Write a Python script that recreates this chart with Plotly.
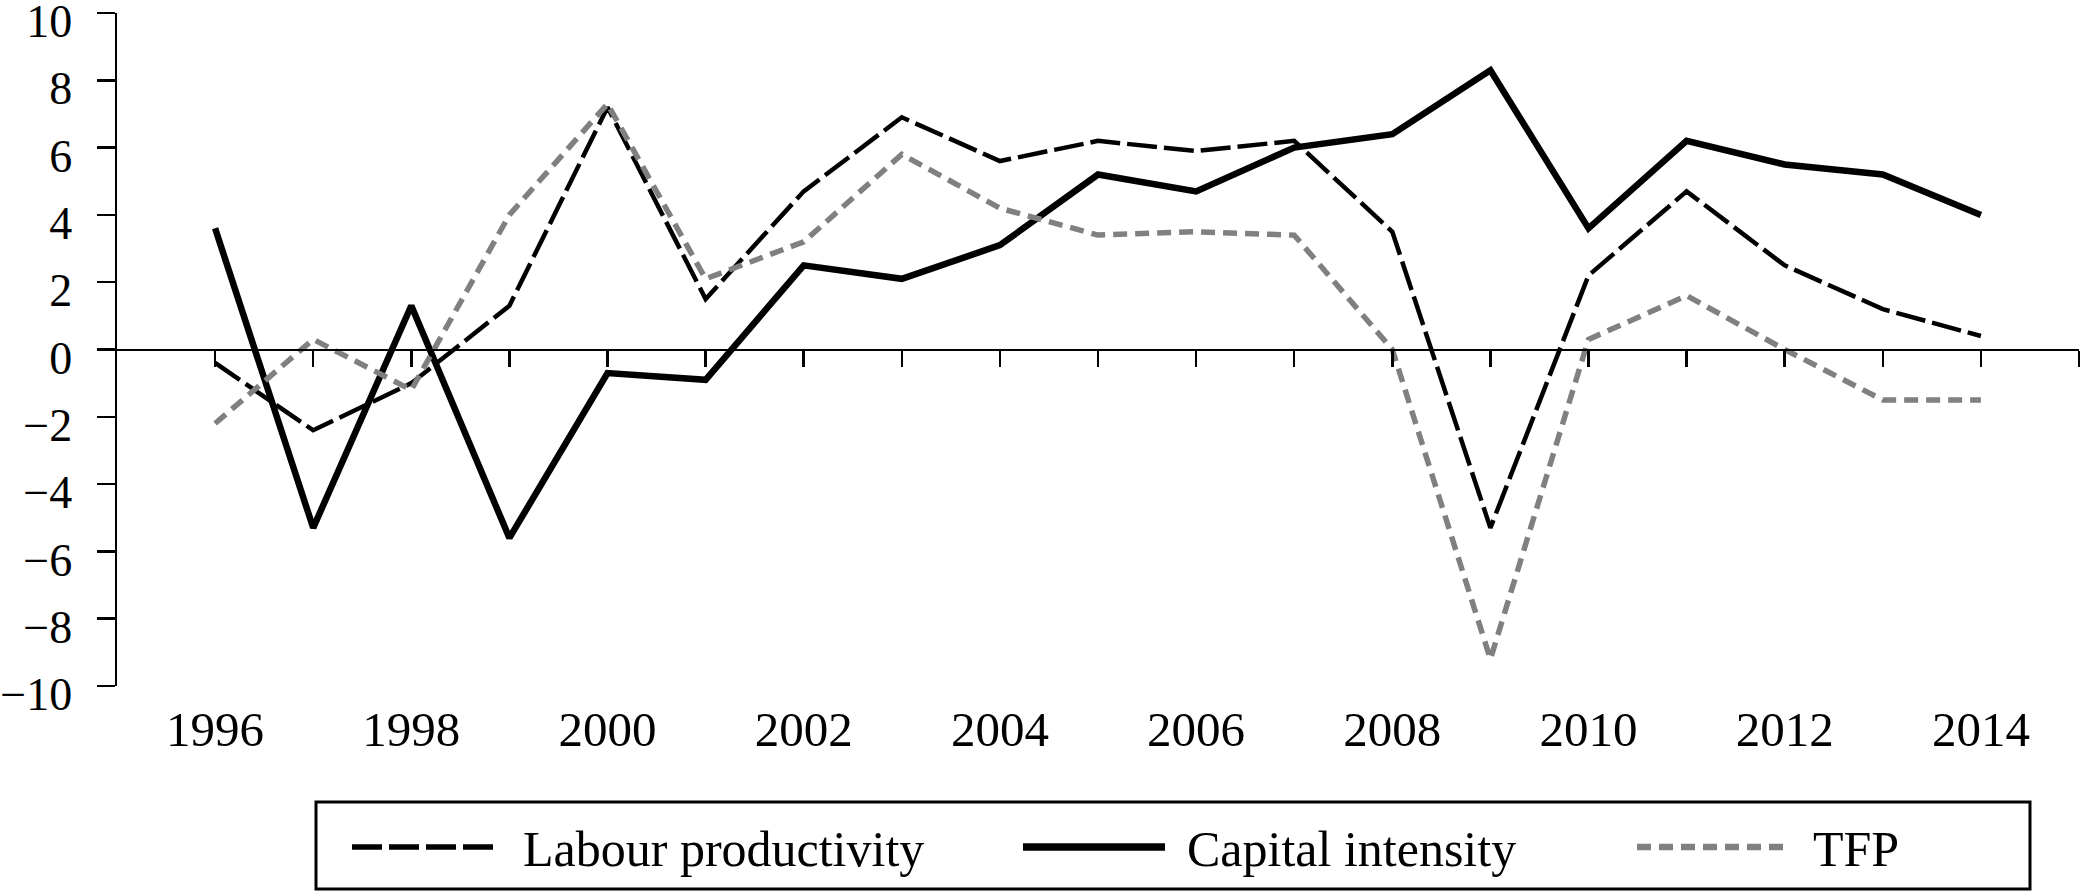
import plotly.graph_objects as go

# ---- data ----
years = list(range(1996, 2015))
labour_productivity = [-0.4, -2.4, -1.0, 1.3, 7.2, 1.5, 4.7, 6.9, 5.6, 6.2, 5.9, 6.2, 3.5, -5.3, 2.2, 4.7, 2.5, 1.2, 0.4]
capital_intensity = [3.6, -5.3, 1.3, -5.6, -0.7, -0.9, 2.5, 2.1, 3.1, 5.2, 4.7, 6.0, 6.4, 8.3, 3.6, 6.2, 5.5, 5.2, 4.0]
tfp = [-2.2, 0.3, -1.2, 4.0, 7.3, 2.1, 3.2, 5.8, 4.2, 3.4, 3.5, 3.4, 0.0, -9.2, 0.3, 1.6, 0.0, -1.5, -1.5]

tick_years = list(range(1996, 2016))
label_years = list(range(1996, 2015, 2))
y_ticks = list(range(-10, 11, 2))
series_names = ["Labour productivity", "Capital intensity", "TFP"]

# ---- geometry ----
W, H = 2083, 893
ML, MR, MT, MB = 117, 4, 13, 207
PW, PH = W - ML - MR, H - MT - MB


def px_x(p):
    return (p - ML) / PW


def px_y(p):
    return (H - MB - p) / PH


FONT = "Liberation Serif"
FS_Y = 46
FS_X = 49
FS_LEG = 50

styles = [
    dict(color="black", width=4.5, dash="30px,7px"),
    dict(color="black", width=6.5),
    dict(color="#808080", width=5.5, dash="14px,8px"),
]

fig = go.Figure()
fig.add_trace(go.Scatter(x=years, y=labour_productivity, mode="lines", name=series_names[0],
                         line=styles[0], hoverinfo="skip"))
fig.add_trace(go.Scatter(x=years, y=capital_intensity, mode="lines", name=series_names[1],
                         line=styles[1], hoverinfo="skip"))
fig.add_trace(go.Scatter(x=years, y=tfp, mode="lines", name=series_names[2], xaxis="x2",
                         line=styles[2], hoverinfo="skip"))

fig.update_layout(
    width=W, height=H,
    margin=dict(l=ML, r=MR, t=MT, b=MB),
    paper_bgcolor="white", plot_bgcolor="white",
    font=dict(family=FONT, size=FS_Y, color="black"),
    showlegend=False,
    hovermode=False,
    xaxis=dict(range=[1995, 2015], anchor="free", position=0.5,
               showline=True, linecolor="black", linewidth=2.5,
               ticks="outside", ticklen=16, tickwidth=2.5, tickcolor="black",
               tickvals=tick_years, showticklabels=False,
               showgrid=False, zeroline=False, automargin=False),
    xaxis2=dict(range=[1995, 2015], overlaying="x", anchor="y", side="bottom",
                showline=False, ticks="", tickvals=label_years,
                ticktext=[str(v) for v in label_years],
                tickfont=dict(family=FONT, size=FS_X, color="black"),
                ticklabelstandoff=10, ticklabeloverflow="allow",
                showgrid=False, zeroline=False, automargin=False),
    yaxis=dict(range=[-10, 10], tickvals=y_ticks,
               showline=True, linecolor="black", linewidth=2.5,
               ticks="outside", ticklen=18, tickwidth=2.5, tickcolor="black",
               tickfont=dict(family=FONT, size=FS_Y, color="black"),
               ticklabelstandoff=15, ticklabelshift=8, ticklabeloverflow="allow",
               showgrid=False, zeroline=False, automargin=False),
)

# ---- custom legend (long samples as in reference) ----
box = dict(x0=316, x1=2030, y0=802, y1=889)
fig.add_shape(type="rect", xref="paper", yref="paper",
              x0=px_x(box["x0"]), x1=px_x(box["x1"]),
              y0=px_y(box["y1"]), y1=px_y(box["y0"]),
              line=dict(color="black", width=3), fillcolor="rgba(0,0,0,0)")
legend_items = [
    (352, 498, 521),
    (1023, 1165, 1185),
    (1637, 1788, 1811),
]
ly = 847
for (s0, s1, tx), name, st in zip(legend_items, series_names, styles):
    st_leg = dict(st)
    st_leg["width"] = st["width"] + 1
    fig.add_shape(type="line", xref="paper", yref="paper",
                  x0=px_x(s0), x1=px_x(s1), y0=px_y(ly), y1=px_y(ly), line=st_leg)
    fig.add_annotation(xref="paper", yref="paper", x=px_x(tx), y=px_y(ly + 2),
                       text=name, showarrow=False, xanchor="left", yanchor="middle",
                       font=dict(family=FONT, size=FS_LEG, color="black"))

fig.write_html("out.html", config={"displayModeBar": False, "staticPlot": True},
               post_script="document.body.style.margin='0';")
